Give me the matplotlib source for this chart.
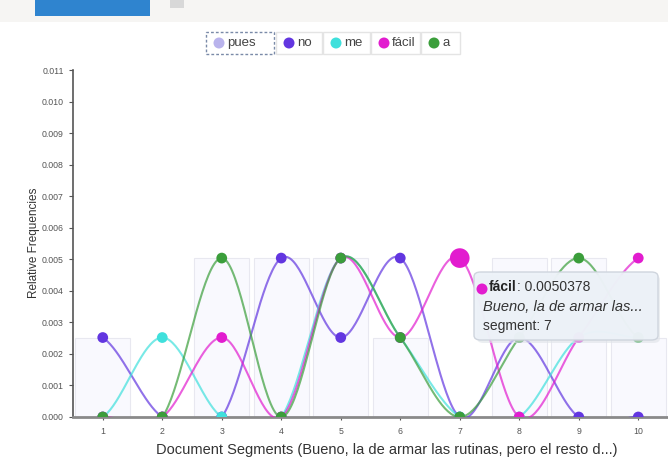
"""Relative frequencies of selected terms across document segments."""

import matplotlib

matplotlib.use("Agg")
import matplotlib.pyplot as plt
import numpy as np
from matplotlib.patches import FancyBboxPatch, Rectangle, Ellipse

plt.rcParams["font.family"] = ["Liberation Sans", "DejaVu Sans"]

W, H = 668, 457

segments = [1, 2, 3, 4, 5, 6, 7, 8, 9, 10]
HALF = 0.0025189
FULL = 0.0050378

pues = [HALF, 0, FULL, FULL, FULL, HALF, 0, FULL, FULL, HALF]
no = [HALF, 0, 0, FULL, HALF, FULL, 0, HALF, 0, 0]
me = [0, HALF, 0, 0, FULL, HALF, 0, 0, HALF, HALF]
facil = [0, 0, HALF, 0, FULL, HALF, FULL, 0, HALF, FULL]
a = [0, 0, FULL, 0, FULL, HALF, 0, HALF, FULL, HALF]

series = [
    ("no", no, "#6236e0"),
    ("me", me, "#3fe0dc"),
    ("fácil", facil, "#e21ccf"),
    ("a", a, "#3b9e3b"),
]
legend_items = [("pues", "#b9b3ec"), ("no", "#6236e0"), ("me", "#3fe0dc"),
                ("fácil", "#e21ccf"), ("a", "#3b9e3b")]
hover_series, hover_segment = "fácil", 7
x_label = "Document Segments (Bueno, la de armar las rutinas, pero el resto d...)"
tooltip_snippet = "Bueno, la de armar las..."


def px(x, y):
    return x / W, 1 - y / H


def catmull_rom(xs, ys, steps=40):
    xs = np.asarray(xs, dtype=float)
    ys = np.asarray(ys, dtype=float)
    n = len(ys)
    m = np.empty(n)
    m[1:-1] = (ys[2:] - ys[:-2]) / 2
    m[0] = (ys[1] - ys[0]) / 2
    m[-1] = (ys[-1] - ys[-2]) / 2
    out_x, out_y = [], []
    for i in range(n - 1):
        t = np.linspace(0, 1, steps, endpoint=(i == n - 2))
        h00 = 2 * t**3 - 3 * t**2 + 1
        h10 = t**3 - 2 * t**2 + t
        h01 = -2 * t**3 + 3 * t**2
        h11 = t**3 - t**2
        out_x.append(xs[i] + t * (xs[i + 1] - xs[i]))
        out_y.append(h00 * ys[i] + h10 * m[i] + h01 * ys[i + 1] + h11 * m[i + 1])
    return np.concatenate(out_x), np.concatenate(out_y)


fig = plt.figure(figsize=(W / 100, H / 100), dpi=100)

# browser chrome strip at the top of the screenshot
fig.patches.append(Rectangle(px(0, 22), 1, 22 / H, transform=fig.transFigure,
                             facecolor="#f6f5f3", edgecolor="none", zorder=0))
fig.patches.append(Rectangle(px(35, 16), 115 / W, 16 / H, transform=fig.transFigure,
                             facecolor="#2f84cf", edgecolor="none", zorder=1))
fig.patches.append(Rectangle(px(170, 8), 14 / W, 8 / H, transform=fig.transFigure,
                             facecolor="#d8d8d8", edgecolor="none", zorder=1))

ax = fig.add_axes([73 / W, 1 - 417 / H, (668 - 73) / W, (417 - 70) / H])
ax.set_xlim(0.5, 10.5)
ax.set_ylim(0, 0.011)

ax.bar(segments, pues, width=0.92, color="#f9f9fe", edgecolor="#e8e8f0",
       linewidth=0.8, zorder=1)

for name, values, color in series:
    sx, sy = catmull_rom(segments, values)
    ax.plot(sx, sy, color=color, linewidth=1.5, alpha=0.7, zorder=3)
for name, values, color in series:
    ax.scatter(segments, values, s=60, color=color, edgecolors="none", zorder=4)

hover_values = dict((n, v) for n, v, c in series)[hover_series]
hover_color = dict((n, c) for n, v, c in series)[hover_series]
ax.scatter([hover_segment], [hover_values[hover_segment - 1]], s=200,
           color=hover_color, edgecolors="none", zorder=5, clip_on=False)

ax.set_xticks(segments)
ax.set_yticks(np.arange(0, 0.0111, 0.001))
ax.yaxis.set_major_formatter(matplotlib.ticker.FormatStrFormatter("%.3f"))
ax.tick_params(axis="both", labelsize=6.3, colors="#555555", length=3, width=0.8)
ax.tick_params(axis="x", length=2, pad=5)
for side in ("top", "right"):
    ax.spines[side].set_visible(False)
ax.spines["left"].set_color("#555555")
ax.spines["left"].set_linewidth(1.2)
ax.spines["bottom"].set_color("#8a8a8a")
ax.spines["bottom"].set_linewidth(2)

fig.text(*px(387, 450), x_label, ha="center", va="center", fontsize=10.5, color="#333333")
fig.text(*px(34, 243), "Relative Frequencies", ha="center", va="center",
         rotation=90, fontsize=8.5, color="#333333")

# legend row
legend_boxes = [(206, 274), (276, 322), (323, 370), (371, 420), (421, 460)]
for (label, color), (x0, x1) in zip(legend_items, legend_boxes):
    dashed = label == "pues"
    fig.patches.append(Rectangle(px(x0, 54), (x1 - x0) / W, 22 / H, transform=fig.transFigure,
                                 facecolor="white",
                                 edgecolor="#7a8aa8" if dashed else "#e4e4e4",
                                 linestyle=(0, (2, 1.5)) if dashed else "-",
                                 linewidth=1.0, zorder=2))
    fig.patches.append(Ellipse(px(x0 + 13, 43), 11 / W, 11 / H, transform=fig.transFigure,
                               facecolor=color, edgecolor="none", zorder=3))
    fig.text(*px(x0 + 21, 43), label, ha="left", va="center", fontsize=9.5,
             color="#444444", zorder=4)

# hover tooltip
fig.patches.append(FancyBboxPatch(px(477, 343), 183 / W, 68 / H,
                                  boxstyle="round,pad=0,rounding_size=0.01",
                                  transform=fig.transFigure, facecolor="#dfe3e8",
                                  edgecolor="none", alpha=0.6, zorder=9))
fig.patches.append(FancyBboxPatch(px(474, 340), 184 / W, 68 / H,
                                  boxstyle="round,pad=0,rounding_size=0.01",
                                  transform=fig.transFigure, facecolor="#edf2f8",
                                  edgecolor="#cdd3dc", linewidth=1.0, alpha=0.95, zorder=10))
fig.patches.append(Ellipse(px(482, 289), 11 / W, 11 / H, transform=fig.transFigure,
                           facecolor=hover_color, edgecolor="none", zorder=11))
bold = fig.text(*px(489, 287), hover_series, ha="left", va="center", fontsize=10,
                fontweight="bold", color="#222222", zorder=11)
fig.canvas.draw()
bb = bold.get_window_extent().transformed(fig.transFigure.inverted())
fig.text(bb.x1, px(0, 287)[1], f": {hover_values[hover_segment - 1]:.7f}", ha="left",
         va="center", fontsize=10, color="#333333", zorder=11)
fig.text(*px(483, 307), tooltip_snippet, ha="left", va="center", fontsize=10.5,
         style="italic", color="#333333", zorder=11)
fig.text(*px(483, 326), f"segment: {hover_segment}", ha="left", va="center",
         fontsize=10, color="#333333", zorder=11)

fig.savefig("out.png", dpi=100)
